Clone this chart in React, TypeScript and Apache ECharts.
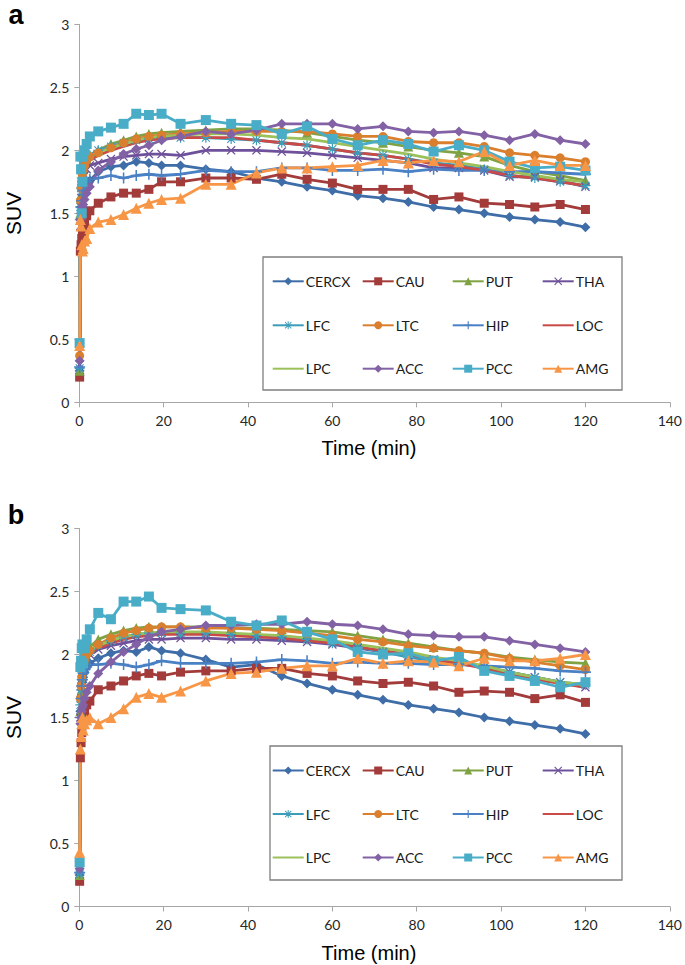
import React, { useEffect, useRef } from "react";
import * as echarts from "echarts";

// Frame mid-times (min)
const TIME = [0.08, 0.25, 0.42, 0.58, 0.75, 0.92, 1.25, 1.75, 2.5, 4.5, 7.5, 10.5, 13.5, 16.5, 19.5, 24, 30, 36, 42, 48, 54, 60, 66, 72, 78, 84, 90, 96, 102, 108, 114, 120];

const REGIONS = ["CERCX", "CAU", "PUT", "THA", "LFC", "LTC", "HIP", "LOC", "LPC", "ACC", "PCC", "AMG"];

const X_TICKS = [0, 20, 40, 60, 80, 100, 120, 140];
const Y_TICKS = [0, 0.5, 1, 1.5, 2, 2.5, 3];

// Panel a
const CERCX_A = [0.25, 1.45, 1.55, 1.60, 1.62, 1.65, 1.68, 1.72, 1.76, 1.83, 1.87, 1.88, 1.91, 1.90, 1.88, 1.88, 1.85, 1.83, 1.78, 1.75, 1.71, 1.68, 1.64, 1.62, 1.59, 1.55, 1.53, 1.50, 1.47, 1.45, 1.43, 1.39];
const CAU_A = [0.20, 1.20, 1.25, 1.30, 1.35, 1.38, 1.42, 1.48, 1.52, 1.58, 1.63, 1.66, 1.66, 1.69, 1.75, 1.75, 1.78, 1.78, 1.77, 1.81, 1.77, 1.74, 1.69, 1.69, 1.69, 1.61, 1.63, 1.58, 1.57, 1.55, 1.57, 1.53];
const PUT_A = [0.25, 1.50, 1.65, 1.75, 1.80, 1.85, 1.90, 1.93, 1.96, 2.00, 2.05, 2.08, 2.11, 2.13, 2.14, 2.15, 2.16, 2.17, 2.17, 2.16, 2.14, 2.11, 2.08, 2.06, 2.03, 2.00, 1.98, 1.95, 1.88, 1.83, 1.80, 1.76];
const THA_A = [0.30, 1.40, 1.55, 1.62, 1.70, 1.75, 1.80, 1.85, 1.88, 1.90, 1.93, 1.95, 1.96, 1.97, 1.97, 1.96, 2.00, 2.00, 2.00, 1.99, 1.98, 1.96, 1.94, 1.92, 1.90, 1.86, 1.86, 1.84, 1.79, 1.79, 1.76, 1.71];
const LFC_A = [0.27, 1.55, 1.70, 1.78, 1.82, 1.86, 1.90, 1.93, 1.96, 2.00, 2.03, 2.06, 2.08, 2.09, 2.10, 2.10, 2.10, 2.09, 2.08, 2.06, 2.04, 2.01, 1.98, 1.96, 1.93, 1.90, 1.88, 1.85, 1.80, 1.78, 1.75, 1.72];
const LTC_A = [0.37, 1.60, 1.70, 1.75, 1.80, 1.85, 1.88, 1.92, 1.95, 1.98, 2.02, 2.06, 2.09, 2.11, 2.12, 2.13, 2.14, 2.15, 2.15, 2.15, 2.15, 2.13, 2.11, 2.11, 2.07, 2.06, 2.06, 2.03, 1.98, 1.96, 1.94, 1.91];
const HIP_A = [0.28, 1.45, 1.55, 1.60, 1.65, 1.68, 1.72, 1.75, 1.77, 1.78, 1.80, 1.78, 1.80, 1.81, 1.80, 1.81, 1.84, 1.83, 1.83, 1.86, 1.86, 1.84, 1.84, 1.85, 1.83, 1.85, 1.84, 1.84, 1.83, 1.83, 1.82, 1.81];
const LOC_A = [0.30, 1.50, 1.62, 1.70, 1.76, 1.80, 1.85, 1.88, 1.92, 1.96, 2.00, 2.03, 2.06, 2.08, 2.09, 2.10, 2.10, 2.10, 2.08, 2.06, 2.04, 2.01, 1.98, 1.96, 1.93, 1.89, 1.87, 1.84, 1.80, 1.78, 1.75, 1.72];
const LPC_A = [0.35, 1.55, 1.68, 1.75, 1.80, 1.84, 1.88, 1.92, 1.95, 1.98, 2.02, 2.05, 2.08, 2.10, 2.11, 2.12, 2.13, 2.13, 2.12, 2.10, 2.09, 2.06, 2.03, 2.00, 1.97, 1.93, 1.90, 1.87, 1.83, 1.80, 1.77, 1.75];
const ACC_A = [0.33, 1.45, 1.50, 1.52, 1.55, 1.57, 1.61, 1.66, 1.71, 1.84, 1.91, 1.97, 2.01, 2.04, 2.08, 2.11, 2.15, 2.13, 2.16, 2.21, 2.21, 2.21, 2.17, 2.19, 2.15, 2.14, 2.15, 2.12, 2.08, 2.13, 2.08, 2.05];
const PCC_A = [0.47, 1.95, 1.85, 1.50, 1.75, 1.95, 2.00, 2.05, 2.11, 2.15, 2.18, 2.21, 2.29, 2.28, 2.29, 2.21, 2.24, 2.21, 2.20, 2.13, 2.19, 2.09, 2.04, 2.08, 2.05, 1.99, 2.04, 2.00, 1.91, 1.86, 1.87, 1.84];
const AMG_A = [0.45, 1.45, 1.40, 1.25, 1.20, 1.22, 1.28, 1.30, 1.38, 1.43, 1.45, 1.49, 1.54, 1.58, 1.61, 1.62, 1.73, 1.73, 1.82, 1.86, 1.86, 1.87, 1.88, 1.92, 1.90, 1.92, 1.91, 1.99, 1.88, 1.92, 1.88, 1.88];

// Panel b
const CERCX_B = [0.25, 1.55, 1.65, 1.72, 1.78, 1.82, 1.86, 1.90, 1.93, 1.97, 2.01, 2.03, 2.02, 2.06, 2.03, 2.01, 1.96, 1.90, 1.92, 1.83, 1.77, 1.72, 1.68, 1.64, 1.60, 1.57, 1.54, 1.50, 1.47, 1.44, 1.41, 1.37];
const CAU_B = [0.20, 1.18, 1.30, 1.38, 1.45, 1.50, 1.55, 1.60, 1.63, 1.72, 1.75, 1.79, 1.83, 1.85, 1.83, 1.86, 1.87, 1.87, 1.89, 1.89, 1.85, 1.83, 1.79, 1.77, 1.78, 1.75, 1.70, 1.71, 1.70, 1.65, 1.68, 1.62];
const PUT_B = [0.25, 1.55, 1.70, 1.80, 1.87, 1.92, 1.97, 2.02, 2.06, 2.12, 2.16, 2.19, 2.21, 2.22, 2.22, 2.22, 2.22, 2.21, 2.21, 2.20, 2.19, 2.18, 2.15, 2.12, 2.09, 2.06, 2.03, 2.01, 1.98, 1.96, 1.94, 1.93];
const THA_B = [0.30, 1.50, 1.65, 1.75, 1.82, 1.87, 1.92, 1.96, 2.00, 2.04, 2.07, 2.09, 2.11, 2.12, 2.12, 2.13, 2.13, 2.12, 2.12, 2.11, 2.10, 2.08, 2.05, 2.02, 1.99, 1.96, 1.93, 1.90, 1.86, 1.82, 1.78, 1.74];
const LFC_B = [0.26, 1.60, 1.72, 1.80, 1.86, 1.90, 1.95, 1.99, 2.02, 2.07, 2.11, 2.14, 2.16, 2.17, 2.17, 2.17, 2.17, 2.16, 2.15, 2.14, 2.12, 2.09, 2.06, 2.02, 1.98, 1.95, 1.93, 1.90, 1.86, 1.82, 1.78, 1.76];
const LTC_B = [0.35, 1.65, 1.75, 1.82, 1.88, 1.92, 1.96, 2.00, 2.03, 2.08, 2.13, 2.17, 2.19, 2.21, 2.22, 2.22, 2.21, 2.21, 2.20, 2.19, 2.17, 2.15, 2.12, 2.10, 2.07, 2.05, 2.03, 2.01, 1.97, 1.94, 1.91, 1.88];
const HIP_B = [0.27, 1.50, 1.65, 1.75, 1.80, 1.85, 1.88, 1.90, 1.92, 1.92, 1.93, 1.92, 1.90, 1.92, 1.95, 1.93, 1.93, 1.93, 1.94, 1.96, 1.95, 1.93, 1.94, 1.93, 1.93, 1.92, 1.92, 1.91, 1.90, 1.89, 1.87, 1.86];
const LOC_B = [0.30, 1.55, 1.68, 1.76, 1.82, 1.87, 1.92, 1.96, 2.00, 2.05, 2.09, 2.12, 2.14, 2.15, 2.16, 2.16, 2.16, 2.15, 2.14, 2.13, 2.11, 2.09, 2.06, 2.03, 2.00, 1.96, 1.93, 1.89, 1.84, 1.80, 1.77, 1.74];
const LPC_B = [0.33, 1.58, 1.70, 1.78, 1.84, 1.89, 1.94, 1.98, 2.02, 2.07, 2.11, 2.14, 2.16, 2.17, 2.18, 2.18, 2.18, 2.17, 2.16, 2.15, 2.13, 2.11, 2.08, 2.05, 2.02, 1.98, 1.95, 1.91, 1.86, 1.82, 1.78, 1.76];
const ACC_B = [0.30, 1.45, 1.50, 1.55, 1.58, 1.60, 1.65, 1.70, 1.75, 1.85, 1.94, 2.02, 2.08, 2.14, 2.18, 2.20, 2.23, 2.23, 2.24, 2.24, 2.26, 2.24, 2.23, 2.20, 2.16, 2.15, 2.14, 2.14, 2.11, 2.08, 2.05, 2.02];
const PCC_B = [0.35, 1.90, 1.95, 2.05, 2.08, 1.93, 2.05, 2.12, 2.20, 2.33, 2.28, 2.42, 2.42, 2.46, 2.37, 2.36, 2.35, 2.26, 2.23, 2.27, 2.18, 2.12, 2.02, 2.00, 2.01, 1.95, 1.98, 1.87, 1.83, 1.79, 1.74, 1.78];
const AMG_B = [0.43, 1.25, 1.35, 1.45, 1.50, 1.40, 1.45, 1.48, 1.50, 1.45, 1.50, 1.57, 1.66, 1.69, 1.66, 1.71, 1.79, 1.85, 1.86, 1.89, 1.91, 1.91, 1.97, 1.93, 1.95, 1.94, 1.91, 1.97, 1.95, 1.95, 1.97, 2.00];

const PANEL_A = [CERCX_A, CAU_A, PUT_A, THA_A, LFC_A, LTC_A, HIP_A, LOC_A, LPC_A, ACC_A, PCC_A, AMG_A];
const PANEL_B = [CERCX_B, CAU_B, PUT_B, THA_B, LFC_B, LTC_B, HIP_B, LOC_B, LPC_B, ACC_B, PCC_B, AMG_B];

const PLUS = "path://M4.3,0h1.4v4.3h4.3v1.4h-4.3v4.3h-1.4v-4.3h-4.3v-1.4h4.3z";
const CROSS = "path://M1,0L5,4L9,0L10,1L6,5L10,9L9,10L5,6L1,10L0,9L4,5L0,1Z";
const STAR = "path://M4.4,0h1.2v4.4h4.4v1.2h-4.4v4.4h-1.2v-4.4h-4.4v-1.2h4.4z M1.5,0.7L5,4.2L8.5,0.7L9.3,1.5L5.8,5L9.3,8.5L8.5,9.3L5,5.8L1.5,9.3L0.7,8.5L4.2,5L0.7,1.5Z";

const STYLE: Record<string, { color: string; symbol: string; size: number }> = {
  CERCX: { color: "#3E6DA8", symbol: "diamond", size: 10 },
  CAU: { color: "#A33B3B", symbol: "rect", size: 9 },
  PUT: { color: "#7FA243", symbol: "triangle", size: 10 },
  THA: { color: "#6E519A", symbol: CROSS, size: 9 },
  LFC: { color: "#3C9DBA", symbol: STAR, size: 10 },
  LTC: { color: "#DA7F2E", symbol: "circle", size: 9 },
  HIP: { color: "#4A80C4", symbol: PLUS, size: 11 },
  LOC: { color: "#C94A46", symbol: "none", size: 0 },
  LPC: { color: "#9CC05A", symbol: "none", size: 0 },
  ACC: { color: "#8262A5", symbol: "diamond", size: 10 },
  PCC: { color: "#4AADC8", symbol: "rect", size: 10 },
  AMG: { color: "#F79646", symbol: "triangle", size: 11 },
};

const TICK_FONT = "Lato";
const TITLE_FONT = "Liberation Sans";

const X0 = 79.3;
const PLOT_W = 594.4;
const PLOT_H = 378;
const TOPS = [24.3, 528.5];
const LEGEND_BOX = [
  { x: 263, y: 257, w: 359, h: 133 },
  { x: 270, y: 746, w: 352, h: 134 },
];
const LEGEND_COL_X = [271.7, 361.7, 451.7, 541.7];
const LEGEND_ROW_Y = [
  [279.3, 323.3, 366.7],
  [768.5, 812, 855.5],
];

export default function App() {
  const ref = useRef<HTMLDivElement>(null);

  useEffect(() => {
    if (!ref.current) return;
    const chart = echarts.init(ref.current, undefined, { renderer: "svg" });

    const grids = TOPS.map((t) => ({ left: X0, top: t, width: PLOT_W, height: PLOT_H, containLabel: false }));

    const axisLineColor = "#A6A6A6";
    const xAxes = TOPS.map((_, i) => ({
      type: "value",
      gridIndex: i,
      min: X_TICKS[0],
      max: X_TICKS[X_TICKS.length - 1],
      interval: 20,
      axisLine: { show: true, onZero: false, lineStyle: { color: axisLineColor, width: 1 } },
      axisTick: { show: true, inside: false, length: 5, lineStyle: { color: axisLineColor } },
      splitLine: { show: false },
      axisLabel: { color: "#262626", fontFamily: TICK_FONT, fontSize: 14, margin: 11 },
    }));
    const yAxes = TOPS.map((_, i) => ({
      type: "value",
      gridIndex: i,
      min: Y_TICKS[0],
      max: Y_TICKS[Y_TICKS.length - 1],
      interval: 0.5,
      axisLine: { show: true, onZero: false, lineStyle: { color: axisLineColor, width: 1 } },
      axisTick: { show: true, inside: false, length: 5, lineStyle: { color: axisLineColor } },
      splitLine: { show: false },
      axisLabel: { color: "#262626", fontFamily: TICK_FONT, fontSize: 14, margin: 10 },
    }));

    const series: any[] = [];
    [PANEL_A, PANEL_B].forEach((panel, p) => {
      panel.forEach((vals, k) => {
        const name = REGIONS[k];
        const st = STYLE[name];
        series.push({
          type: "line",
          name,
          xAxisIndex: p,
          yAxisIndex: p,
          data: TIME.map((t, i) => [t, vals[i]]),
          symbol: st.symbol,
          symbolSize: st.size,
          showSymbol: st.symbol !== "none",
          lineStyle: { color: st.color, width: 2.8 },
          itemStyle: { color: st.color },
          emphasis: { disabled: true },
          z: 2,
        });
      });
    });

    const legends: any[] = [];
    [0, 1].forEach((p) => {
      REGIONS.forEach((name, k) => {
        const col = k % 4;
        const row = Math.floor(k / 4);
        const noMarker = STYLE[name].symbol === "none";
        const lg: any = {
          data: [name],
          left: LEGEND_COL_X[col],
          top: LEGEND_ROW_Y[p][row] - 5,
          orient: "horizontal",
          padding: 0,
          itemWidth: 31,
          itemHeight: 10,
          itemGap: 0,
          selectedMode: false,
          textStyle: { fontFamily: TICK_FONT, fontSize: 14, color: "#1a1a1a", padding: [0, 0, 0, -3] },
        };
        if (noMarker) lg.itemStyle = { opacity: 0 };
        legends.push(lg);
      });
    });

    const graphic: any[] = [];
    LEGEND_BOX.forEach((b) => {
      graphic.push({
        type: "rect",
        z: 1,
        shape: { x: b.x, y: b.y, width: b.w, height: b.h },
        style: { fill: "#ffffff", stroke: "#7f7f7f", lineWidth: 1.3 },
      });
    });
    [
      { label: "a", y: 15, top: TOPS[0] },
      { label: "b", y: 515, top: TOPS[1] },
    ].forEach((pl) => {
      graphic.push({
        type: "text",
        x: 16,
        y: pl.y,
        style: { text: pl.label, font: `bold 27px "${TITLE_FONT}"`, fill: "#000", align: "center", verticalAlign: "middle" },
      });
      graphic.push({
        type: "text",
        x: 13,
        y: pl.top + PLOT_H / 2,
        rotation: Math.PI / 2,
        style: { text: "SUV", font: `21px "${TITLE_FONT}"`, fill: "#000", align: "center", verticalAlign: "middle" },
      });
      graphic.push({
        type: "text",
        x: 369,
        y: pl.top + PLOT_H + 46,
        style: { text: "Time (min)", font: `20px "${TITLE_FONT}"`, fill: "#000", align: "center", verticalAlign: "middle" },
      });
    });

    chart.setOption({
      animation: false,
      backgroundColor: "#ffffff",
      grid: grids,
      xAxis: xAxes,
      yAxis: yAxes,
      legend: legends,
      series,
      graphic,
    });

    return () => chart.dispose();
  }, []);

  return (
    <div
      ref={ref}
      style={{ position: "fixed", left: 0, top: 0, width: 685, height: 965, background: "#fff" }}
    />
  );
}
